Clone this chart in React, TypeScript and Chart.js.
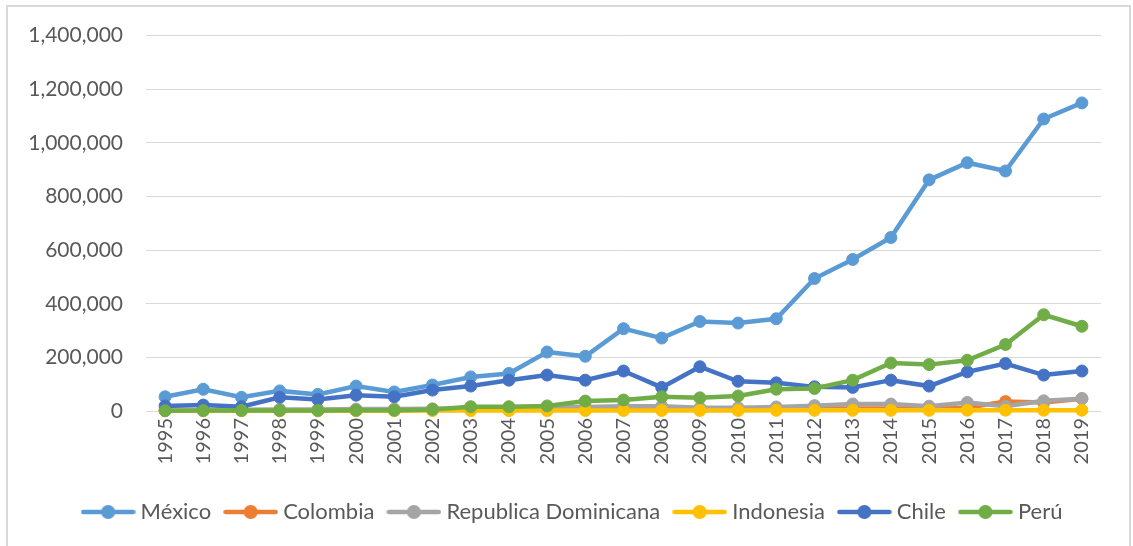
import { useEffect, useRef } from 'react';
import { Chart, registerables } from 'chart.js';

Chart.register(...registerables);

const years = ['1995', '1996', '1997', '1998', '1999', '2000', '2001', '2002', '2003', '2004', '2005', '2006', '2007', '2008', '2009', '2010', '2011', '2012', '2013', '2014', '2015', '2016', '2017', '2018', '2019'];

const mexico = [53000, 81000, 51000, 75000, 62000, 93000, 71000, 97000, 127000, 140000, 220000, 204000, 307000, 272000, 334000, 328000, 344000, 494000, 565000, 647000, 862000, 926000, 895000, 1089000, 1149000];
const colombia = [2000, 2000, 2500, 3000, 3000, 3500, 3500, 4000, 4500, 5000, 5500, 6000, 6500, 6000, 5000, 6000, 7000, 8000, 9000, 9000, 8000, 12000, 35000, 32000, 46000];
const republicaDominicana = [3000, 4000, 5000, 6000, 6000, 7000, 7000, 8000, 10000, 11000, 13000, 15000, 18000, 18000, 12000, 12000, 15000, 20000, 26000, 26000, 18000, 32000, 18000, 38000, 46000];
const indonesia = [1000, 1000, 1000, 1000, 1000, 1000, 1000, 1500, 1500, 1500, 1500, 2000, 2000, 2000, 2000, 2000, 2500, 2500, 2500, 2500, 2500, 3000, 3000, 3000, 3000];
const chile = [19000, 22000, 16000, 51000, 43000, 59000, 53000, 78000, 93000, 115000, 134000, 115000, 149000, 88000, 165000, 111000, 105000, 90000, 88000, 115000, 93000, 146000, 177000, 134000, 149000];
const peru = [1000, 1500, 2000, 2000, 2000, 2500, 3000, 6000, 16000, 16000, 19000, 37000, 41000, 53000, 49000, 56000, 81000, 84000, 115000, 179000, 173000, 189000, 248000, 359000, 316000];

const seriesNames = ['México', 'Colombia', 'Republica Dominicana', 'Indonesia', 'Chile', 'Perú'];
const seriesValues = [mexico, colombia, republicaDominicana, indonesia, chile, peru];
const seriesColors = ['#5B9BD5', '#ED7D31', '#A5A5A5', '#FFC000', '#4472C4', '#70AD47'];

const yMin = 0;
const yMax = 1400000;
const yStep = 200000;

const textColor = '#595959';
const gridColor = '#D9D9D9';
const fontFamily = 'Lato, "Open Sans", sans-serif';

function makeSymbol(color: string) {
  const c = document.createElement('canvas');
  c.width = 55;
  c.height = 16;
  const ctx = c.getContext('2d')!;
  ctx.strokeStyle = color;
  ctx.lineWidth = 4.5;
  ctx.lineCap = 'round';
  ctx.beginPath();
  ctx.moveTo(2.5, 8);
  ctx.lineTo(52.5, 8);
  ctx.stroke();
  ctx.fillStyle = color;
  ctx.beginPath();
  ctx.arc(27.5, 8, 7, 0, Math.PI * 2);
  ctx.fill();
  return c;
}

const legendShift = {
  id: 'legendShift',
  afterLayout(chart: any) {
    const lg = chart.legend;
    if (lg) {
      lg.left += 24;
      lg.right += 24;
    }
  },
};

export default function App() {
  const ref = useRef<HTMLCanvasElement | null>(null);

  useEffect(() => {
    document.body.style.margin = '0';
    const canvas = ref.current;
    if (!canvas) return;
    const symbols = seriesColors.map((c) => makeSymbol(c));
    const n = seriesNames.length;

    const chart = new Chart(canvas, {
      type: 'line',
      data: {
        labels: years,
        datasets: seriesNames.map((name, i) => ({
          label: name,
          data: seriesValues[i],
          borderColor: seriesColors[i],
          backgroundColor: seriesColors[i],
          pointBackgroundColor: seriesColors[i],
          pointBorderColor: seriesColors[i],
          borderWidth: 4.5,
          pointRadius: 6,
          pointBorderWidth: 1,
          pointHoverRadius: 6,
          tension: 0,
          fill: false,
          clip: false,
          order: n - 1 - i,
        })),
      },
      options: {
        animation: false,
        responsive: false,
        devicePixelRatio: 1,
        layout: { padding: { top: 34, right: 32, bottom: 13, left: 0 } },
        plugins: {
          tooltip: { enabled: false },
          legend: {
            position: 'bottom',
            labels: {
              usePointStyle: true,
              pointStyleWidth: 43,
              padding: 18,
              color: textColor,
              font: { family: fontFamily, size: 22 },
              generateLabels: (ch: any) => {
                const base = Chart.defaults.plugins.legend.labels.generateLabels(ch);
                return base
                  .map((it: any) => ({ ...it, pointStyle: symbols[it.datasetIndex] }))
                  .sort((a: any, b: any) => a.datasetIndex - b.datasetIndex);
              },
            },
          },
        },
        scales: {
          x: {
            type: 'category',
            offset: true,
            grid: { display: false, drawTicks: false },
            border: { display: false },
            ticks: {
              autoSkip: false,
              minRotation: 90,
              maxRotation: 90,
              padding: 7,
              color: textColor,
              font: { family: fontFamily, size: 20 },
            },
            afterFit: (s: any) => {
              s.height = 72;
            },
          },
          y: {
            min: yMin,
            max: yMax,
            grid: { color: gridColor, lineWidth: 1, drawTicks: false },
            border: { display: false },
            ticks: {
              stepSize: yStep,
              padding: 23,
              color: textColor,
              font: { family: fontFamily, size: 21 },
              callback: (v: any) => Number(v).toLocaleString('en-US'),
            },
            afterFit: (s: any) => {
              s.width = 146;
            },
          },
        },
      },
      plugins: [legendShift],
    });
    return () => chart.destroy();
  }, []);

  return (
    <div style={{ position: 'relative', width: 1133, height: 546, overflow: 'hidden', background: '#fff' }}>
      <canvas ref={ref} width={1133} height={546} style={{ position: 'absolute', left: 0, top: 0 }} />
      <div
        style={{
          position: 'absolute',
          left: 6,
          top: 5,
          width: 1125,
          height: 600,
          border: '2px solid #D9D9D9',
          boxSizing: 'border-box',
          pointerEvents: 'none',
        }}
      />
    </div>
  );
}
